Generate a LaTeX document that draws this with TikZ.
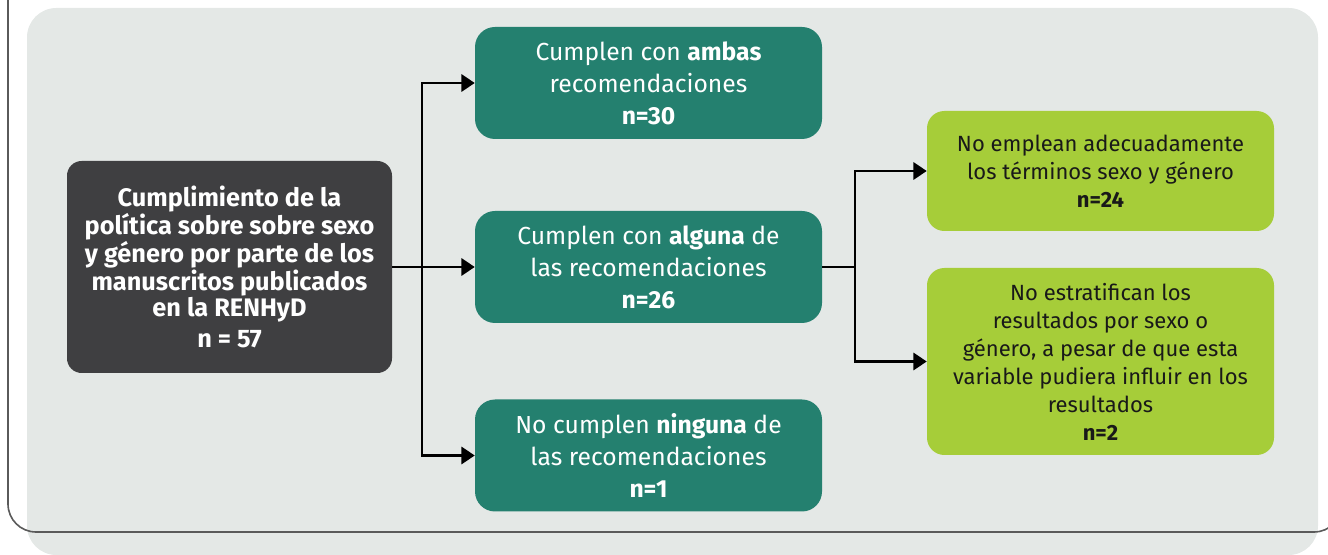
\documentclass[tikz,border=0pt]{standalone}
\usepackage{fontspec}
\setmainfont{Fira Sans}
\usetikzlibrary{positioning, arrows.meta}
\definecolor{panelgray}{HTML}{E4E8E6}
\definecolor{framegray}{HTML}{5A5A5A}
\definecolor{rootgray}{HTML}{3F3F41}
\definecolor{teal}{HTML}{24806F}
\definecolor{lime}{HTML}{A6CD39}

\begin{document}
\begin{tikzpicture}[
    x=0.75pt, y=-0.75pt,
    root/.style={rectangle, rounded corners=11pt, fill=rootgray, text=white, align=center, minimum width=243.75pt, minimum height=159pt, font=\bfseries\fontsize{19}{18.6}\selectfont},
    rec/.style={rectangle, rounded corners=15pt, fill=teal, text=white, align=center, minimum width=260.25pt, minimum height=84pt, font=\fontsize{18.5}{24}\selectfont},
    fault/.style={rectangle, rounded corners=13pt, fill=lime, text=black!90, align=center, minimum width=260.25pt, font=\fontsize{16.5}{21}\selectfont},
    arr/.style={-{Triangle[length=10pt, width=13pt]}, line width=1.7pt}
]
    \useasboundingbox (0,0) rectangle (1328,555);
    \clip (0,0) rectangle (1328,555);
    \fill[panelgray, rounded corners=22pt] (27,8) rectangle (1318,555);
    \draw[framegray, line width=1.2pt, rounded corners=21pt] (8,-40) rectangle (1342,532);

    \node[root] (total) at (229.5,267) {Cumplimiento de la\\política sobre sobre sexo\\y género por parte de los\\manuscritos publicados\\en la RENHyD\\[5pt]n = 57};

    \node[rec] (ambas) at (648.5,83) {Cumplen con \textbf{ambas}\\recomendaciones\\\textbf{n=30}};
    \node[rec] (alguna) at (648.5,267) {Cumplen con \textbf{alguna} de\\las recomendaciones\\\textbf{n=26}};
    \node[rec] (ninguna) at (648.5,455.5) {No cumplen \textbf{ninguna} de\\las recomendaciones\\\textbf{n=1}};

    \node[fault, minimum height=90pt] (terminos) at (1100.5,171) {No emplean adecuadamente\\los términos sexo y género\\\textbf{n=24}};
    \node[fault, minimum height=140.25pt] (estratif) at (1100.5,361.5) {No estratifican los\\resultados por sexo o\\género, a pesar de que esta\\variable pudiera influir en los\\resultados\\\textbf{n=2}};

    \draw[arr] (total) -- (alguna);
    \draw[arr] (total.east) -- ++(30,0) |- (ambas);
    \draw[arr] (total.east) -- ++(30,0) |- (ninguna);
    \draw[arr] (alguna.east) -- ++(33,0) |- (terminos);
    \draw[arr] (alguna.east) -- ++(33,0) |- (estratif);
\end{tikzpicture}
\end{document}
